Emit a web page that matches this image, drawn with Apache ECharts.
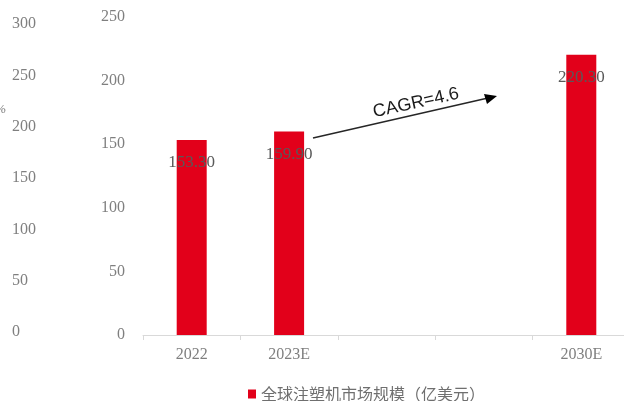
<!DOCTYPE html>
<html>
<head>
<meta charset="utf-8">
<script src="https://cdn.jsdelivr.net/npm/echarts@6/dist/echarts.min.js"></script>
<style>html,body{margin:0;padding:0;background:#fff;overflow:hidden;width:624px;height:401px}#c{width:640px;height:401px}</style>
</head>
<body>
<div id="c"></div>
<script>
var categories = ['2022', '2023E', '', '', '2030E'];
var marketSize = [153.3, 159.9, null, null, 220.3];
var seriesName = '全球注塑机市场规模（亿美元）';
var leftTicks = [0, 50, 100, 150, 200, 250, 300];
var rightTicks = [0, 50, 100, 150, 200, 250];
var cagrText = 'CAGR=4.6';

var chart = echarts.init(document.getElementById('c'), null, {renderer: 'canvas'});
var serif = 'Liberation Serif';
var option = {
  animation: false,
  grid: [
    {left: 143, width: 487, top: 17, bottom: 66, containLabel: false},
    {left: 143, width: 487, top: 24, bottom: 69, containLabel: false}
  ],
  xAxis: [
    {
      type: 'category', gridIndex: 0, data: categories,
      axisLine: {lineStyle: {color: '#d9d9d9', width: 1}},
      axisTick: {show: true, length: 5, alignWithLabel: false, lineStyle: {color: '#d9d9d9'}},
      axisLabel: {color: '#7f7f7f', fontFamily: serif, fontSize: 16, margin: 12}
    },
    {type: 'value', gridIndex: 1, show: false, min: 0, max: 1}
  ],
  yAxis: [
    {
      type: 'value', gridIndex: 0, min: rightTicks[0], max: rightTicks[rightTicks.length - 1], interval: 50,
      axisLine: {show: false}, axisTick: {show: false}, splitLine: {show: false},
      axisLabel: {color: '#7f7f7f', fontFamily: serif, fontSize: 16, margin: 18}
    },
    {
      type: 'value', gridIndex: 1, min: leftTicks[0], max: leftTicks[leftTicks.length - 1], interval: 50,
      axisLine: {show: false}, axisTick: {show: false}, splitLine: {show: false},
      axisLabel: {color: '#7f7f7f', fontFamily: serif, fontSize: 16, margin: 131, align: 'left'}
    }
  ],
  legend: {
    left: 243, top: 381, icon: 'rect', itemWidth: 8, itemHeight: 9,
    textStyle: {color: '#6f6f6f', fontFamily: 'Noto Sans CJK SC', fontSize: 16},
    data: [seriesName]
  },
  series: [{
    name: seriesName, type: 'bar', xAxisIndex: 0, yAxisIndex: 0,
    data: marketSize, barWidth: 30,
    itemStyle: {color: '#e2001a'},
    label: {
      show: true, position: 'insideTop', distance: 14,
      color: '#595959', fontFamily: serif, fontSize: 17,
      formatter: function (p) { return p.value == null ? '' : p.value.toFixed(2); }
    }
  }],
  graphic: [
    {type: 'text', left: -5, top: 103, style: {text: '%', fill: '#7f7f7f', font: '13px Liberation Serif'}},
    {type: 'line', shape: {x1: 313, y1: 138, x2: 488, y2: 98}, style: {stroke: '#262626', lineWidth: 1.5}},
    {type: 'polygon', shape: {points: [[497, 96], [484, 94], [487, 104]]}, style: {fill: '#000'}},
    {type: 'text', x: 416, y: 103, rotation: 12.5 * Math.PI / 180,
     style: {text: cagrText, fill: '#1a1a1a', font: '18px Liberation Sans', textAlign: 'center', textVerticalAlign: 'middle'}}
  ]
};
chart.setOption(option);
</script>
</body>
</html>
